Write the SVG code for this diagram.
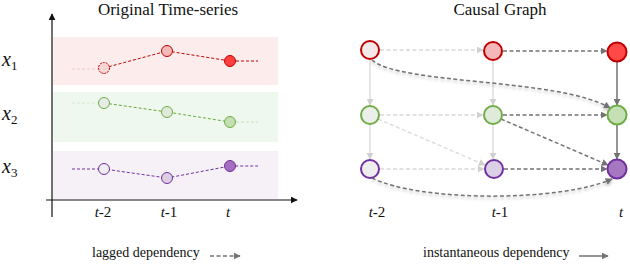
<svg xmlns="http://www.w3.org/2000/svg" width="630" height="264" viewBox="0 0 630 264">
<style>
.axis{stroke:#111;stroke-width:1.2;fill:none}
.light{stroke:#d9d9d9;stroke-width:1.3;fill:none}
.dark{stroke:#737373;stroke-width:1.5;fill:none}
.dash{stroke-dasharray:4 2.5}
.tsr{stroke:#c00000;stroke-width:1;fill:none;stroke-dasharray:3 2}
.tsg{stroke:#6aaa40;stroke-width:1;fill:none;stroke-dasharray:3 2}
.tsp{stroke:#7030a0;stroke-width:1;fill:none;stroke-dasharray:3 2}
.pr{stroke:#c00000;stroke-width:1}
.pg{stroke:#70ad47;stroke-width:1}
.pp{stroke:#7030a0;stroke-width:1}
.nr{stroke:#c00000;stroke-width:2}
.ng{stroke:#70ad47;stroke-width:2}
.np{stroke:#7030a0;stroke-width:2}
</style>
<defs>
<marker id="ax" viewBox="0 0 10 10" refX="9" refY="5" markerWidth="7" markerHeight="7" orient="auto" markerUnits="userSpaceOnUse"><path d="M0,0 L10,5 L0,10 z" fill="#111"/></marker>
<marker id="al" viewBox="0 0 10 10" refX="9" refY="5" markerWidth="7" markerHeight="7" orient="auto" markerUnits="userSpaceOnUse"><path d="M0,0 L10,5 L0,10 z" fill="#d0d0d0"/></marker>
<marker id="ad" viewBox="0 0 10 10" refX="9" refY="5" markerWidth="7" markerHeight="7" orient="auto" markerUnits="userSpaceOnUse"><path d="M0,0 L10,5 L0,10 z" fill="#737373"/></marker>
<filter id="sh" x="-10%" y="-50%" width="120%" height="200%"><feDropShadow dx="0" dy="2" stdDeviation="1.5" flood-color="#000" flood-opacity="0.25"/></filter>
</defs>

<!-- Left panel -->
<text x="168" y="15" font-family="Liberation Serif" font-size="17" fill="#111" text-anchor="middle" style="font-family:'Liberation Serif'">Original Time-series</text>
<rect x="53" y="37" width="225" height="48" fill="#fcecec"/>
<rect x="53" y="92" width="225" height="50" fill="#eef8ee"/>
<rect x="53" y="151" width="225" height="48" fill="#f5f1f7"/>
<path class="axis" d="M52,217 V14" marker-end="url(#ax)"/>
<path class="axis" d="M46,200 H297" marker-end="url(#ax)"/>
<text x="2" y="66" font-family="Liberation Serif" font-size="20" font-style="italic" fill="#111" style="font-family:'Liberation Serif'">x<tspan font-size="13" font-style="normal" dy="4">1</tspan></text>
<text x="2" y="120" font-family="Liberation Serif" font-size="20" font-style="italic" fill="#111" style="font-family:'Liberation Serif'">x<tspan font-size="13" font-style="normal" dy="4">2</tspan></text>
<text x="2" y="173" font-family="Liberation Serif" font-size="20" font-style="italic" fill="#111" style="font-family:'Liberation Serif'">x<tspan font-size="13" font-style="normal" dy="4">3</tspan></text>
<text x="103" y="217" font-family="Liberation Serif" font-size="15" fill="#111" text-anchor="middle" style="font-family:'Liberation Serif'"><tspan font-style="italic">t</tspan>-2</text>
<text x="169" y="217" font-family="Liberation Serif" font-size="15" fill="#111" text-anchor="middle" style="font-family:'Liberation Serif'"><tspan font-style="italic">t</tspan>-1</text>
<text x="228" y="217" font-family="Liberation Serif" font-size="15" font-style="italic" fill="#111" text-anchor="middle" style="font-family:'Liberation Serif'">t</text>

<g id="series">
<path d="M72,69 H99" stroke="#f0c8c8" stroke-width="1" stroke-dasharray="3 2" fill="none"/>
<path class="tsr" d="M104,68 L167,51 L230,61 H258"/>
<path d="M72,103 H99" stroke="#d6e8cc" stroke-width="1" stroke-dasharray="3 2" fill="none"/>
<path class="tsg" d="M104,103 L167,112 L230,122"/>
<path d="M236,122 H258" stroke="#c8e0bc" stroke-width="1" stroke-dasharray="3 2" fill="none"/>
<path class="tsp" d="M72,169 H104 L167,178 L230,166 H258"/>
</g>
<g id="p-x1-t2"><circle class="pr" cx="104" cy="68" r="5.5" fill="#f8d6d6" stroke-dasharray="2 1"/></g>
<g id="p-x1-t1"><circle class="pr" cx="167" cy="51" r="5.5" fill="#f4b8b8"/></g>
<g id="p-x1-t"><circle class="pr" cx="230" cy="61" r="5.5" fill="#ff4040"/></g>
<g id="p-x2-t2"><circle class="pg" cx="104" cy="103" r="5.5" fill="#e8ece6"/></g>
<g id="p-x2-t1"><circle class="pg" cx="167" cy="112" r="5.5" fill="#dfe8da"/></g>
<g id="p-x2-t"><circle class="pg" cx="230" cy="122" r="5.5" fill="#c3dfb3"/></g>
<g id="p-x3-t2"><circle class="pp" cx="104" cy="169" r="5.5" fill="#eeeeee"/></g>
<g id="p-x3-t1"><circle class="pp" cx="167" cy="178" r="5.5" fill="#dccfe3"/></g>
<g id="p-x3-t"><circle class="pp" cx="230" cy="166" r="5.5" fill="#a46fc0"/></g>

<!-- Right panel -->
<text x="500" y="15" font-family="Liberation Serif" font-size="17" fill="#111" text-anchor="middle" style="font-family:'Liberation Serif'">Causal Graph</text>
<text x="377" y="217" font-family="Liberation Serif" font-size="15" fill="#111" text-anchor="middle" style="font-family:'Liberation Serif'"><tspan font-style="italic">t</tspan>-2</text>
<text x="500" y="217" font-family="Liberation Serif" font-size="15" fill="#111" text-anchor="middle" style="font-family:'Liberation Serif'"><tspan font-style="italic">t</tspan>-1</text>
<text x="621" y="217" font-family="Liberation Serif" font-size="15" font-style="italic" fill="#111" text-anchor="middle" style="font-family:'Liberation Serif'">t</text>

<g id="connectors">
<path class="light dash" d="M380,50 H483" marker-end="url(#al)"/>
<path class="light dash" d="M380,115 H483" marker-end="url(#al)"/>
<path class="light dash" d="M380,169 H484" marker-end="url(#al)"/>
<path class="light" d="M370,60 V105" marker-end="url(#al)"/>
<path class="light" d="M370,125 V159" marker-end="url(#al)"/>
<path class="light" d="M493,61 V105" marker-end="url(#al)"/>
<path class="light" d="M493,125 V159" marker-end="url(#al)"/>
<path class="light dash" d="M378,119 L485,165" marker-end="url(#al)"/>
<path class="dark dash" d="M503,51 H607" marker-end="url(#ad)"/>
<path class="dark dash" d="M503,115 H607" marker-end="url(#ad)"/>
<path class="dark dash" d="M504,169 H607" marker-end="url(#ad)"/>
<path class="dark dash" d="M501,119 L608,165" marker-end="url(#ad)"/>
<path class="dark" d="M617,62 V105" marker-end="url(#ad)"/>
<path class="dark" d="M617,125 V159" marker-end="url(#ad)"/>
<path class="dark dash" filter="url(#sh)" d="M372,60 C400,85 560,78 610,108" marker-end="url(#ad)"/>
<path class="dark dash" filter="url(#sh)" d="M372,178 C420,202 560,202 612,179" marker-end="url(#ad)"/>
</g>

<g id="n-x1-t2"><circle class="nr" cx="370" cy="50" r="9" fill="#f3e9e9"/></g>
<g id="n-x1-t1"><circle class="nr" cx="493" cy="51" r="9" fill="#f4b8b8"/></g>
<g id="n-x1-t"><circle class="nr" cx="617" cy="52" r="9.5" fill="#ff4848"/></g>
<g id="n-x2-t2"><circle class="ng" cx="370" cy="115" r="9" fill="#eceeea"/></g>
<g id="n-x2-t1"><circle class="ng" cx="493" cy="115" r="9" fill="#e0ead9"/></g>
<g id="n-x2-t"><circle class="ng" cx="617" cy="115" r="9.5" fill="#c5e0b4"/></g>
<g id="n-x3-t2"><circle class="np" cx="370" cy="169" r="9" fill="#eeeeee"/></g>
<g id="n-x3-t1"><circle class="np" cx="494" cy="169" r="9" fill="#dcd0e6"/></g>
<g id="n-x3-t"><circle class="np" cx="617" cy="169" r="9.5" fill="#a678c2"/></g>

<!-- Legends -->
<g id="legend-lagged">
<text x="92" y="257" font-family="Liberation Serif" font-size="14" fill="#111" style="font-family:'Liberation Serif'">lagged dependency</text>
<path class="dark dash" d="M210,256 H240" stroke-width="1.2" marker-end="url(#ad)"/>
</g>
<g id="legend-inst">
<text x="423" y="257" font-family="Liberation Serif" font-size="14" fill="#111" style="font-family:'Liberation Serif'">instantaneous dependency</text>
<path class="dark" d="M579,256 H608" stroke-width="1.2" marker-end="url(#ad)"/>
</g>
</svg>
